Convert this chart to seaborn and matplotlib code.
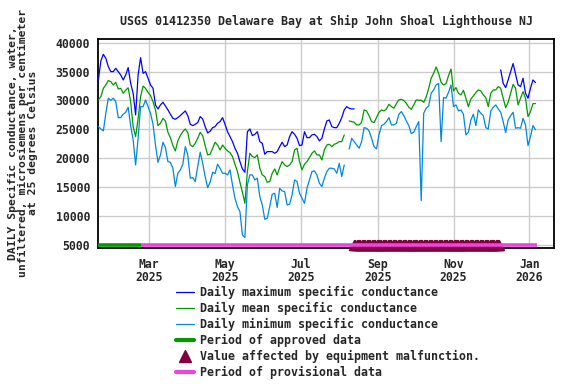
import numpy as np
import pandas as pd
import matplotlib
matplotlib.use("Agg")
import matplotlib.pyplot as plt
import seaborn as sns
from matplotlib.lines import Line2D

sns.set_style("white")
plt.rcParams['font.family'] = ['DejaVu Sans Mono']
plt.rcParams['font.weight'] = 'bold'

nan = np.nan

# values every 2 days starting 2025-01-19
start_date = "2025-01-19"
daily_max = [
    33560, 36850, 38000, 37300, 35870, 35000, 35000, 35580, 35000, 34420, 33560, 34420, 35700, 32980, 31250, 27500,
    34420, 37430, 34710, 35000, 33850, 32690, 32120, 29230, 28540, 29230, 29700, 29050, 28370, 27620, 26920, 26750,
    27040, 27380, 27790, 28190, 27380, 25880, 25650, 25880, 26170, 27210, 26800, 25480, 24380, 24670, 25300, 25480,
    26060, 26350, 27040, 25880, 24600, 23750, 22880, 21730, 20860, 19420, 18150, 17570, 24600, 25070, 23920,
    24150, 24600, 22880, 22590, 20690, 21150, 21150, 21150, 20860, 21150, 22010, 22770, 22010, 22300, 23750, 24600,
    24150, 23460, 22190, 22300, 24600, 23570, 23570, 24040, 24150, 23750, 23000, 23460, 25070, 26460, 26630, 25480,
    25300, 25300, 26060, 27040, 28370, 28940, 28650, 28540, 28540,
] + [nan] * 58 + [
    35290, 32980, 32230, 33560, 35000, 36400, 34540, 32690, 32400, 33850, 31250, 30390, 32120, 33560, 33100,
]
daily_mean = [
    30100, 30670, 32100, 32700, 33450, 33270, 32700, 33150, 32000, 32100, 31250, 31800, 32200, 29800, 25480, 23750,
    26900, 30670, 32500, 32100, 31400, 30850, 29800, 28370, 25650, 26050, 26900, 26460, 24500, 23570, 22200, 21270,
    23000, 23920, 24600, 25070, 24440, 22300, 22010, 22590, 23460, 24500, 23920, 22190, 20580, 20690, 21730, 22770,
    22300, 21440, 22300, 21730, 21270, 20980, 20290, 18960, 17690, 15840, 14110, 12200, 17690, 20860, 20290,
    20120, 20580, 18270, 17110, 16830, 15840, 15960, 17400, 18150, 17110, 18380, 19420, 18840, 18560, 18840, 19420,
    21440, 21730, 19420, 17980, 18960, 19420, 20120, 20860, 21270, 20580, 20580, 19710, 21440, 22300, 22420, 22010,
    22420, 22590, 22880, 22880, 24040, nan, 26460, 26350, 26230, 25770, 25770, 26230, 28370, 28190, 27380, 26350,
    26170, 27040, 27960, 28370, 28190, 28540, 29350, 28940, 28650, 29460, 30100, 30210, 29980, 29520, 28830,
    28480, 29230, 30100, 30040, 30040, 29690, 30610, 32100, 33850, 34710, 35800, 34710, 33150, 32690, 32920, 34300,
    35460, 31650, 32230, 31250, 30960, 31770, 30390, 28940, 30270, 30790, 31360, 31830, 31650, 30960, 30500, 28940,
    31250, 31830, 31830, 32400, 32120, 30390, 28770, 29690, 31250, 32800, 32120, 29230, 30390, 31540, 30390, 27210,
    28080, 29460, 29460,
]
daily_min = [
    25480, 25080, 24730, 27790, 30390, 30040, 30390, 29800, 27040, 27040, 27620, 27960, 28830, 25650, 23170, 18840,
    23460, 28940, 28940, 30100, 28940, 27790, 25880, 22300, 19300, 20570, 22770, 21850, 19420, 19300, 18260, 15100,
    17400, 17980, 18960, 22010, 20580, 16540, 16650, 15960, 18550, 21040, 19130, 16830, 14920, 15840, 17580, 17350,
    18960, 18270, 17400, 17400, 17110, 17980, 15380, 13070, 11630, 10770, 6730, 6270, 15380, 17110, 17110,
    16250, 16540, 13360, 11920, 9440, 9620, 11630, 13770, 13940, 11460, 14800, 14340, 14230, 11920, 12030, 13650,
    16250, 15960, 13940, 13070, 12200, 14800, 16250, 17690, 17810, 17110, 15670, 15100, 16540, 17690, 18270, 18270,
    18150, 17400, 19130, 16830, 18840, nan, 21590, 23460, 22880, 22300, 21730, 22880, 25300, 25190, 24730, 23460,
    22010, 21620, 24040, 25650, 25880, 26350, 27040, 25770, 25770, 26060, 27620, 28080, 27380, 26460, 25650,
    24270, 24500, 25480, 26350, 12650, 27790, 28650, 29060, 31250, 31830, 32690, 32980, 22880, 30500, 30390, 31420,
    32690, 28940, 29230, 28190, 28370, 27620, 24040, 24500, 26630, 27620, 25650, 28370, 27790, 27380, 25300, 25070,
    28190, 28830, 29230, 28540, 27960, 26350, 24440, 26630, 27380, 27960, 25190, 25300, 25190, 26920, 25770, 22190,
    23750, 25650, 24960,
]

approved = ["2025-01-19", "2025-02-22"]
provisional = ["2025-02-22", "2026-01-07"]
malfunction = ["2025-08-13", "2025-12-08"]
period_level = 5050

tick_dates = ["2025-03-01", "2025-05-01", "2025-07-01", "2025-09-01", "2025-11-01", "2026-01-01"]
tick_labels = ["Mar\n2025", "May\n2025", "Jul\n2025", "Sep\n2025", "Nov\n2025", "Jan\n2026"]
y_ticks = [5000, 10000, 15000, 20000, 25000, 30000, 35000, 40000]

title = "USGS 01412350 Delaware Bay at Ship John Shoal Lighthouse NJ"
ylabel = "DAILY Specific conductance, water,\nunfiltered, microsiemens per centimeter\nat 25 degrees Celsius"

c_max, c_mean, c_min = "#0000ff", "#009900", "#0088dd"
c_appr, c_prov, c_bad = "#009900", "#ee44dd", "#800040"

dates = pd.date_range(start_date, periods=len(daily_mean), freq="2D")
df = pd.DataFrame({"date": dates, "max": daily_max, "mean": daily_mean, "min": daily_min})

fig = plt.figure(figsize=(5.76, 3.84), dpi=100)
ax = fig.add_axes([0.1707, 0.3542, 0.7917, 0.5435])


def draw_series(col, color):
    # break the line where values are missing
    ok = df[col].notna()
    seg = (~ok).cumsum()
    for _, part in df[ok].groupby(seg[ok]):
        sns.lineplot(data=part, x="date", y=col, color=color, lw=0.9, ax=ax,
                     estimator=None, zorder=3)


draw_series("max", c_max)
draw_series("mean", c_mean)
draw_series("min", c_min)

# equipment malfunction markers, one per day
bad_days = pd.date_range(malfunction[0], malfunction[1], freq="D")
sns.scatterplot(x=bad_days, y=[period_level] * len(bad_days), marker="^", s=55,
                color=c_bad, edgecolor=c_bad, linewidth=0.8, ax=ax, zorder=4, clip_on=False)

ax.plot(pd.to_datetime(approved), [period_level] * 2, color=c_appr, lw=2.6,
        solid_capstyle="butt", zorder=5)
ax.plot(pd.to_datetime(provisional), [period_level] * 2, color=c_prov, lw=2.6,
        solid_capstyle="butt", zorder=5)

ax.set_xlim(pd.Timestamp("2025-01-18 23:00"), pd.Timestamp("2026-01-21 05:00"))
ax.set_ylim(4460, 40600)
ax.set_xticks(pd.to_datetime(tick_dates))
ax.set_xticklabels(tick_labels, fontsize=8.3, linespacing=1.0)
ax.set_yticks(y_ticks)
ax.set_yticklabels([str(v) for v in y_ticks], fontsize=8.3)
ax.tick_params(length=0, pad=6)
ax.tick_params(axis="x", pad=7)
ax.grid(True, color="#cccccc", lw=1.0, zorder=0)
ax.set_axisbelow(True)
ax.set_xlabel("")
ax.set_ylabel("")
for s in ax.spines.values():
    s.set_color("black")
    s.set_linewidth(1.3)

fig.text(326 / 576, 1 - 21 / 384, title, ha="center", va="center", fontsize=8.4)
fig.text(23 / 576, 1 - 143 / 384, ylabel, ha="center", va="center", rotation=90,
         fontsize=8.2, linespacing=0.95, multialignment="center")

handles = [
    Line2D([], [], color=c_max, lw=0.9),
    Line2D([], [], color=c_mean, lw=0.9),
    Line2D([], [], color=c_min, lw=0.9),
    Line2D([], [], color=c_appr, lw=3),
    Line2D([], [], color=c_bad, lw=0, marker="^", markersize=8),
    Line2D([], [], color=c_prov, lw=3),
]
labels = [
    "Daily maximum specific conductance",
    "Daily mean specific conductance",
    "Daily minimum specific conductance",
    "Period of approved data",
    "Value affected by equipment malfunction.",
    "Period of provisional data",
]
fig.legend(handles, labels, loc="upper left", bbox_to_anchor=(176 / 576, 1 - 286 / 384),
           frameon=False, fontsize=8.4, handlelength=1.55, handletextpad=0.5,
           labelspacing=0.25, borderpad=0, borderaxespad=0)

fig.savefig("out.png", dpi=100)
